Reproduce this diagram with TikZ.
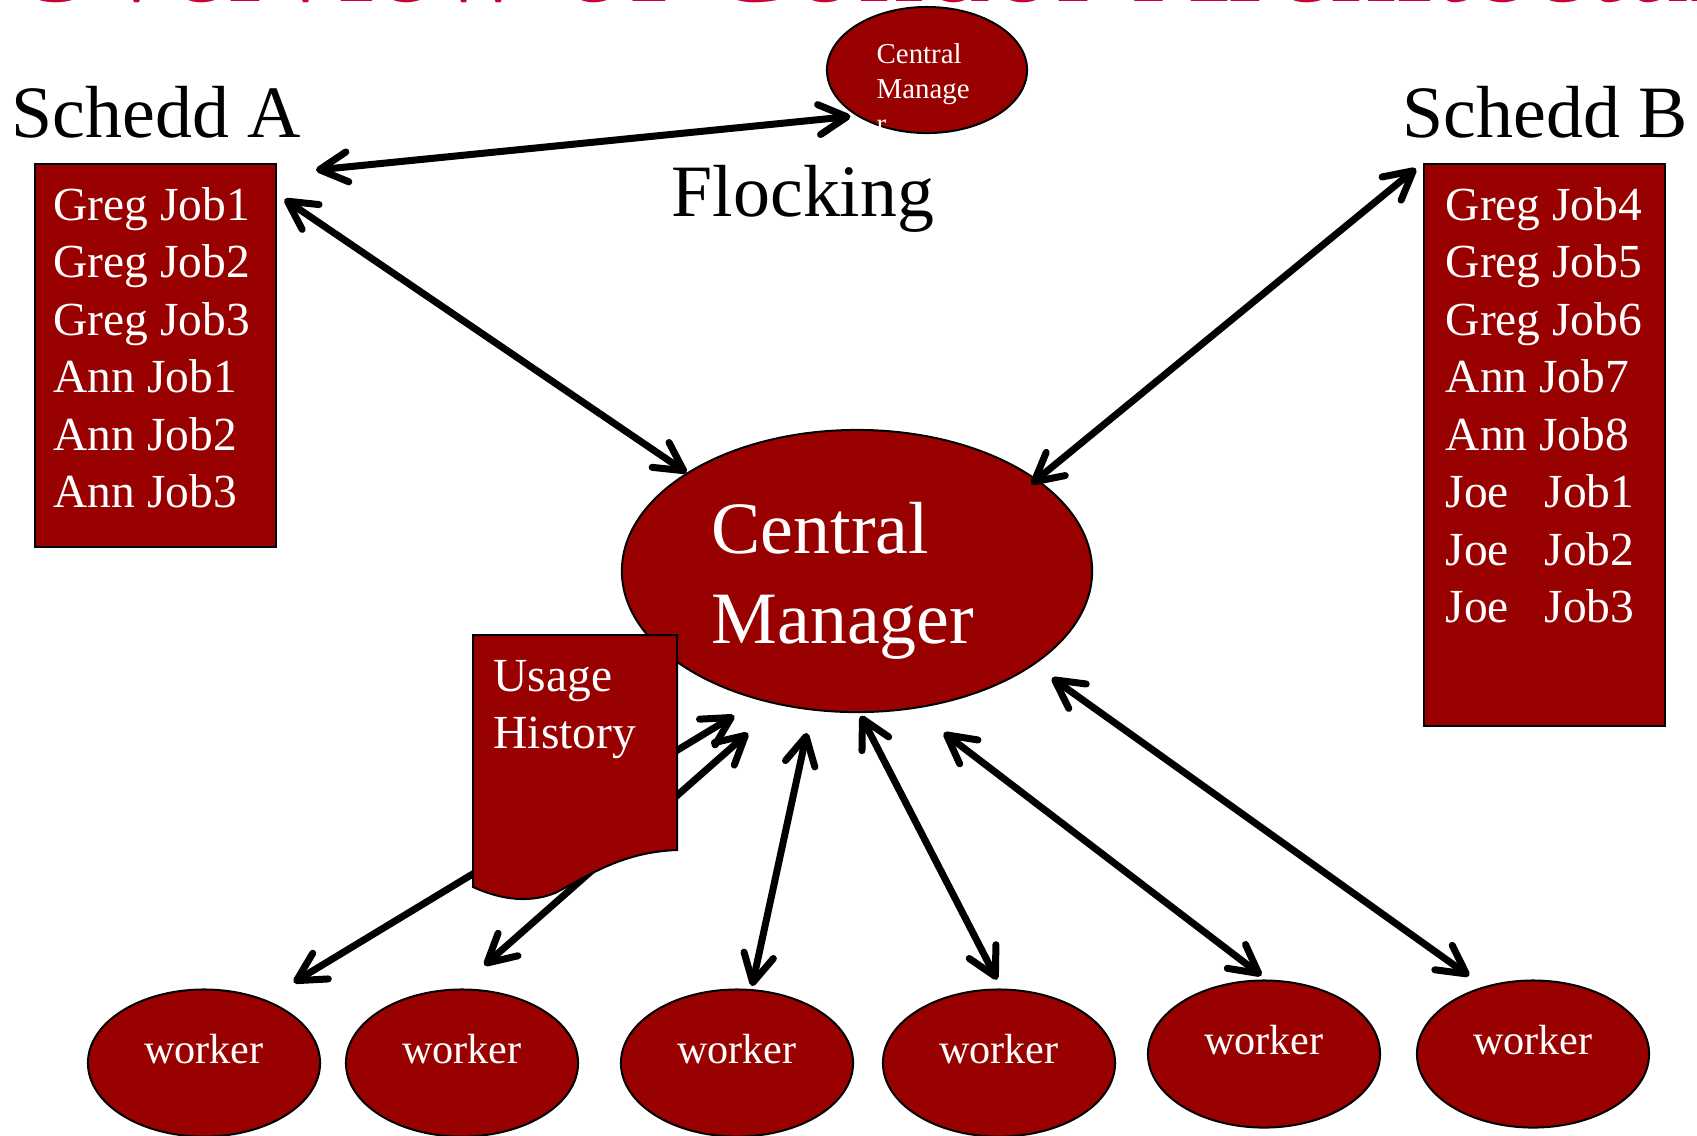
\documentclass[tikz,border=0pt]{standalone}
\usepackage{fontspec}
\setmainfont{Liberation Serif}
\usetikzlibrary{arrows.meta,shapes.geometric}
\definecolor{condorred}{RGB}{153,0,0}
\definecolor{titlered}{RGB}{204,0,51}
\newcommand{\tikzWorkerNode}[2]{
  \node[worker] (#1) at (#2) {worker};
}

\begin{document}
\begin{tikzpicture}[x=0.01cm, y=-0.01cm,
  >={Straight Barb[length=0.28cm,width=0.30cm,round]},
  link/.style={<->, line width=0.07cm},
  manager/.style={draw, ellipse, line width=0.02cm, fill=condorred, inner sep=0pt},
  jobbox/.style={draw, rectangle, line width=0.02cm, fill=condorred, inner sep=0pt, minimum width=2.41cm},
  worker/.style={manager, text=white, minimum width=2.32cm, minimum height=1.47cm,
    font=\fontsize{12}{14}\selectfont, text height=0.15cm, text depth=0.15cm},
  bigtext/.style={inner sep=0pt, anchor=base west, font=\fontsize{21}{25}\selectfont},
  jobtext/.style={inner sep=0pt, anchor=base west, text=white, font=\fontsize{13.5}{16}\selectfont},
  smalltext/.style={inner sep=0pt, anchor=base west, text=white, font=\fontsize{8.2}{10}\selectfont}]
  \useasboundingbox (0,0) rectangle (1697,1135);
  \clip (0,0) rectangle (1697,1135);

  % title, cut off by the top edge
  \node[inner sep=0pt, anchor=base west, text=titlered, font=\fontsize{37.5}{45}\selectfont] (title) at (8,1.5) {Overview of Condor Architecture};

  \node[manager, minimum width=4.70cm, minimum height=2.82cm] (cm) at (857,571) {};
  \node[manager, minimum width=2.00cm, minimum height=1.26cm] (flockcm) at (927,70) {};
  \node[jobbox, minimum height=3.83cm] (scheddA) at (155.5,355.5) {};
  \node[jobbox, minimum height=5.62cm] (scheddB) at (1544.5,445) {};

  \tikzWorkerNode{w1}{204,1063}
  \tikzWorkerNode{w2}{462,1063}
  \tikzWorkerNode{w3}{737,1063}
  \tikzWorkerNode{w4}{999,1063}
  \tikzWorkerNode{w5}{1264,1054}
  \tikzWorkerNode{w6}{1533,1054}

  \node[bigtext] (nameA) at (11,137) {Schedd A};
  \node[bigtext] (nameB) at (1402,137) {Schedd B};
  \node[bigtext] (flocking) at (671,216) {Flocking};
  \node[bigtext, text=white] (cmline1) at (711,553) {Central};
  \node[bigtext, text=white] (cmline2) at (711,643) {Manager};

  \foreach \word [count=\i] in {Central, Manage, r}
    \node[smalltext] (flockline\i) at (876,{63+35*(\i-1)}) {\word};

  \foreach \job [count=\i] in {Greg Job1, Greg Job2, Greg Job3, Ann Job1, Ann Job2, Ann Job3}
    \node[jobtext] (jobA\i) at (53,{220+57.5*(\i-1)}) {\job};
  \foreach \job [count=\i] in {Greg Job4, Greg Job5, Greg Job6, Ann Job7, Ann Job8,
      \makebox[0.99cm][l]{Joe}Job1, \makebox[0.99cm][l]{Joe}Job2, \makebox[0.99cm][l]{Joe}Job3}
    \node[jobtext] (jobB\i) at (1445,{220+57.5*(\i-1)}) {\job};

  % flocking and schedd links
  \coordinate (flockA) at (316,170);
  \draw[link, shorten >=0.06cm] (flockA) -- (flockcm.213);
  \draw[link, shorten <=0.09cm] (scheddA.53) -- (cm.150);
  \draw[link, shorten <=0.09cm, shorten >=-0.075cm] (scheddB.north west) -- (cm.27);

  % worker links
  \draw[link, shorten <=0.295cm, shorten >=0.33cm] (cm.233) -- (w1.46);
  \draw[link, shorten <=0.42cm, shorten >=0.35cm] (cm.240) -- (w2.93);
  \draw[link, shorten <=0.23cm, shorten >=0.03cm] (cm.252) -- (w3.79);
  \draw[link, shorten <=0.03cm, shorten >=0.10cm] (cm.271) -- (w4.88);
  \draw[link, shorten <=0.39cm, shorten >=0.065cm] (cm.292) -- (w5.88);
  \draw[link, shorten <=0.22cm, shorten >=0.18cm] (cm.332) -- (w6.126);

  % usage history sheet, over the links
  \draw[line width=0.02cm, fill=condorred] (473,635) -- (677,635) -- (677,850)
    .. controls (620,852) and (585,878) .. (555,893)
    .. controls (525,905) and (495,897) .. (473,887) -- cycle;
  \node[jobtext] (usage1) at (493,691) {Usage};
  \node[jobtext] (usage2) at (493,748) {History};
\end{tikzpicture}
\end{document}
